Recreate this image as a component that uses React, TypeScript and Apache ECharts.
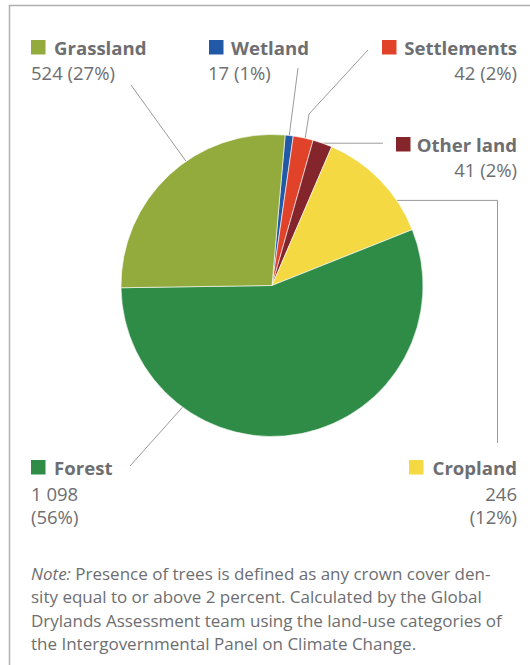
import React, { useEffect, useRef } from "react";
import * as echarts from "echarts";

// ---- data ----
const categories = ["Wetland", "Settlements", "Other land", "Cropland", "Forest", "Grassland"];
const values = [17, 42, 41, 246, 1098, 524];
const valueTexts = ["17", "42", "41", "246", "1 098", "524"];
const percents = [1, 2, 2, 12, 56, 27];
const colors = ["#2159a7", "#e0432a", "#84242b", "#f4d943", "#2e8c46", "#92ab3c"];
const noteLines = [
  "{i|Note:} Presence of trees is defined as any crown cover den-",
  "sity equal to or above 2 percent. Calculated by the Global",
  "Drylands Assessment team using the land-use categories of",
  "the Intergovernmental Panel on Climate Change.",
];

// ---- layout ----
const FONT = "Open Sans";
const TXT = "#6d6e71";
const CX = 272;
const CY = 285.5;
const R = 151;
const START = 85;

type Lay = {
  sq: [number, number];
  align: "left" | "right";
  tx: number;
  ty: number;
  vx: number;
  vy: number;
  twoLine: boolean;
  frac: number;
  line: (e: [number, number]) => number[][];
};

const layout: Lay[] = [
  { sq: [209, 40], align: "left", tx: 231, ty: 47, vx: 208, vy: 72, twoLine: false, frac: 0.5,
    line: (e) => [[298, 68], e] },
  { sq: [382, 40], align: "right", tx: 517, ty: 47, vx: 517, vy: 72, twoLine: false, frac: 0.6,
    line: (e) => [[368, 50], [309, 114], e] },
  { sq: [396, 137], align: "right", tx: 517, ty: 144.5, vx: 517, vy: 169, twoLine: false, frac: 0.5,
    line: (e) => [[383, e[1]], e] },
  { sq: [409, 460], align: "right", tx: 517, ty: 467, vx: 517, vy: 493, twoLine: true, frac: 0.72,
    line: (e) => [e, [497.5, e[1]], [497.5, 443]] },
  { sq: [31, 460], align: "left", tx: 54, ty: 467, vx: 31, vy: 493, twoLine: true, frac: 0.737,
    line: (e) => [[130, 466], e] },
  { sq: [31, 40], align: "left", tx: 54, ty: 47, vx: 31, vy: 72, twoLine: false, frac: 0.586,
    line: (e) => [[131, 85], e] },
];

function edgePoint(i: number, frac: number): [number, number] {
  const total = values.reduce((a, b) => a + b, 0);
  let before = 0;
  for (let k = 0; k < i; k++) before += values[k];
  const deg = START - ((before + frac * values[i]) / total) * 360;
  const rad = (deg * Math.PI) / 180;
  return [CX + R * Math.cos(rad), CY - R * Math.sin(rad)];
}

export default function App() {
  const ref = useRef<HTMLDivElement>(null);
  useEffect(() => {
    document.body.style.margin = "0";
    const chart = echarts.init(ref.current!, undefined, { renderer: "svg" });
    const graphics: any[] = [];
    graphics.push({
      type: "polyline",
      shape: { points: [[9.5, 665], [9.5, 5.5], [530, 5.5]] },
      style: { stroke: "#aeb0b2", lineWidth: 1.5, fill: null },
      silent: true,
    });
    categories.forEach((name, i) => {
      const L = layout[i];
      const e = edgePoint(i, L.frac);
      graphics.push({
        type: "polyline",
        shape: { points: L.line(e) },
        style: { stroke: "#9a9a9a", lineWidth: 1, fill: null },
        silent: true,
      });
      graphics.push({
        type: "rect",
        shape: { x: L.sq[0], y: L.sq[1], width: 14.5, height: 14.5 },
        style: { fill: colors[i] },
        silent: true,
      });
      graphics.push({
        type: "text",
        x: L.tx,
        y: L.ty,
        style: {
          text: name,
          fontFamily: FONT,
          fontWeight: "bold",
          fontSize: 18.6,
          fill: TXT,
          align: L.align,
          verticalAlign: "middle",
        },
        silent: true,
      });
      const vt = L.twoLine
        ? `${valueTexts[i]}\n(${percents[i]}%)`
        : `${valueTexts[i]} (${percents[i]}%)`;
      graphics.push({
        type: "text",
        x: L.vx,
        y: L.twoLine ? L.vy - 11.75 : L.vy,
        style: {
          text: vt,
          fontFamily: FONT,
          fontSize: 18.5,
          lineHeight: 23.5,
          fill: TXT,
          align: L.align,
          verticalAlign: L.twoLine ? "top" : "middle",
        },
        silent: true,
      });
    });
    noteLines.forEach((ln, k) => {
      graphics.push({
        type: "text",
        x: 31,
        y: 573 + k * 23.6,
        style: {
          text: ln,
          fontFamily: FONT,
          fontSize: 17,
          fill: TXT,
          align: "left",
          verticalAlign: "middle",
          rich: {
            i: { fontFamily: FONT, fontSize: 17, fontStyle: "italic", fill: TXT },
          },
        },
        silent: true,
      });
    });

    chart.setOption({
      animation: false,
      backgroundColor: "#ffffff",
      series: [
        {
          type: "pie",
          center: [CX, CY],
          radius: R,
          startAngle: START,
          clockwise: true,
          silent: true,
          label: { show: false },
          labelLine: { show: false },
          itemStyle: { borderColor: "#ffffff", borderWidth: 0.6 },
          data: categories.map((name, i) => ({
            name,
            value: values[i],
            itemStyle: { color: colors[i] },
          })),
        },
      ],
      graphic: graphics,
    });
    return () => chart.dispose();
  }, []);
  return <div ref={ref} style={{ width: 530, height: 665 }} />;
}
